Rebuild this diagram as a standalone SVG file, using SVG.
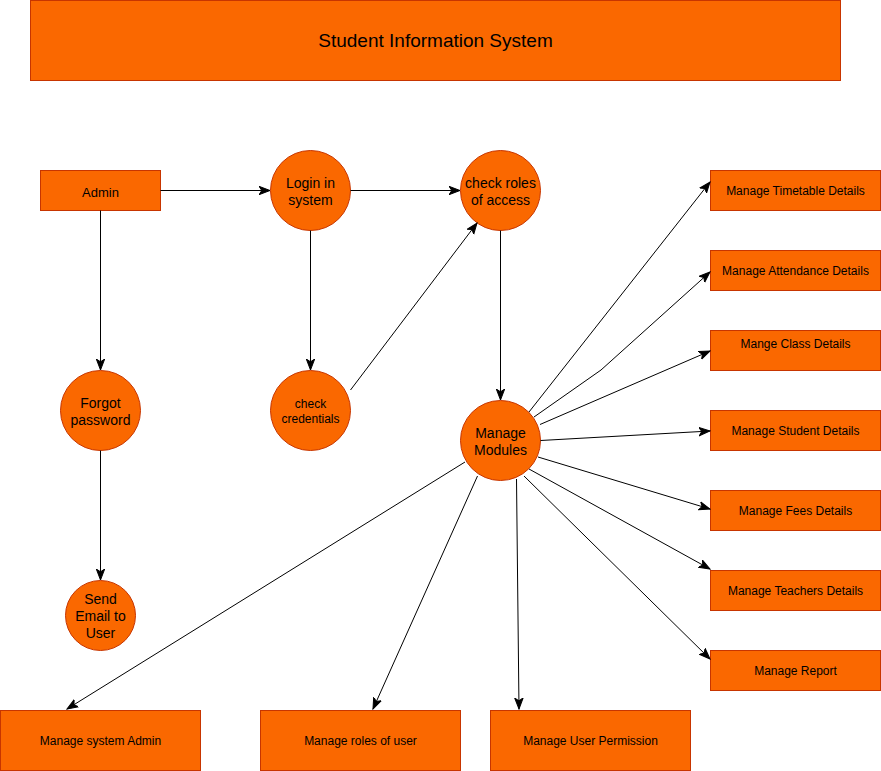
<svg xmlns="http://www.w3.org/2000/svg" width="881" height="771" viewBox="0 0 881 771">
<style>
.n{fill:#fa6800;stroke:#c73500;stroke-width:1}
.t{font-family:"Liberation Sans",Arial,sans-serif;fill:#000;text-anchor:middle}
.s12{font-size:12px}.s13{font-size:13px}.s14{font-size:14px}.s19{font-size:19px}
.c{fill:none;stroke:#000;stroke-width:1}
</style>
<defs>
<marker id="a" markerUnits="userSpaceOnUse" markerWidth="12" markerHeight="10" viewBox="0 0 12 10" refX="11" refY="5" orient="auto">
<path d="M0,0.8 L11,5 L0,9.2 L2.8,5 z" fill="#000" stroke="#000" stroke-width="1" stroke-linejoin="miter"/>
</marker>
</defs>
<rect width="881" height="771" fill="#fff"/>
<g id="title"><rect class="n" x="30.5" y="0.5" width="810" height="80"/><text class="t s19" x="435.5" y="47">Student Information System</text></g>
<g id="admin"><rect class="n" x="40.5" y="170.5" width="120" height="40"/><text class="t s13" x="100.5" y="197">Admin</text></g>
<g id="login"><circle class="n" cx="310.5" cy="190.5" r="40"/><text class="t s14" x="310.5" y="188">Login in</text><text class="t s14" x="310.5" y="205">system</text></g>
<g id="roles"><circle class="n" cx="500.5" cy="190.5" r="40"/><text class="t s14" x="500.5" y="188">check roles</text><text class="t s14" x="500.5" y="205">of access</text></g>
<g id="cred"><circle class="n" cx="310.5" cy="410.5" r="40"/><text class="t s12" x="310.5" y="408">check</text><text class="t s12" x="310.5" y="423">credentials</text></g>
<g id="forgot"><circle class="n" cx="100.5" cy="410.5" r="40"/><text class="t s14" x="100.5" y="408">Forgot</text><text class="t s14" x="100.5" y="425">password</text></g>
<g id="email"><circle class="n" cx="100.5" cy="615.5" r="35"/><text class="t s14" x="100.5" y="604">Send</text><text class="t s14" x="100.5" y="621">Email to</text><text class="t s14" x="100.5" y="638">User</text></g>
<g id="modules"><circle class="n" cx="500.5" cy="440.5" r="40"/><text class="t s14" x="500.5" y="438">Manage</text><text class="t s14" x="500.5" y="455">Modules</text></g>
<g id="timetable"><rect class="n" x="710.5" y="170.5" width="170" height="40"/><text class="t s12" x="795.5" y="195">Manage Timetable Details</text></g>
<g id="attendance"><rect class="n" x="710.5" y="250.5" width="170" height="40"/><text class="t s12" x="795.5" y="275">Manage Attendance Details</text></g>
<g id="class"><rect class="n" x="710.5" y="330.5" width="170" height="40"/><text class="t s12" x="795.5" y="348">Mange Class Details</text></g>
<g id="student"><rect class="n" x="710.5" y="410.5" width="170" height="40"/><text class="t s12" x="795.5" y="435">Manage Student Details</text></g>
<g id="fees"><rect class="n" x="710.5" y="490.5" width="170" height="40"/><text class="t s12" x="795.5" y="515">Manage Fees Details</text></g>
<g id="teachers"><rect class="n" x="710.5" y="570.5" width="170" height="40"/><text class="t s12" x="795.5" y="595">Manage Teachers Details</text></g>
<g id="report"><rect class="n" x="710.5" y="650.5" width="170" height="40"/><text class="t s12" x="795.5" y="675">Manage Report</text></g>
<g id="sysadmin"><rect class="n" x="0.5" y="710.5" width="200" height="60"/><text class="t s12" x="100.5" y="745">Manage system Admin</text></g>
<g id="userroles"><rect class="n" x="260.5" y="710.5" width="200" height="60"/><text class="t s12" x="360.5" y="745">Manage roles of user</text></g>
<g id="perm"><rect class="n" x="490.5" y="710.5" width="200" height="60"/><text class="t s12" x="590.5" y="745">Manage User Permission</text></g>
<g id="connectors">
<path class="c" marker-end="url(#a)" d="M160.5,190.5 L270,190.5"/>
<path class="c" marker-end="url(#a)" d="M100.5,210.5 L100.5,370"/>
<path class="c" marker-end="url(#a)" d="M100.5,450.5 L100.5,580"/>
<path class="c" marker-end="url(#a)" d="M350.5,190.5 L460,190.5"/>
<path class="c" marker-end="url(#a)" d="M310.5,230.5 L310.5,370"/>
<path class="c" marker-end="url(#a)" d="M350.5,390 L477,223"/>
<path class="c" marker-end="url(#a)" d="M500.5,230.5 L500.5,400"/>
<path class="c" marker-end="url(#a)" d="M529,412 L710,182"/>
<path class="c" marker-end="url(#a)" d="M534,417 L601,370 L710,272"/>
<path class="c" marker-end="url(#a)" d="M540,424.5 L710,351"/>
<path class="c" marker-end="url(#a)" d="M540.5,440.5 L710,431"/>
<path class="c" marker-end="url(#a)" d="M538,457 L710,509"/>
<path class="c" marker-end="url(#a)" d="M529,469 L710,569"/>
<path class="c" marker-end="url(#a)" d="M524,476 L710,659"/>
<path class="c" marker-end="url(#a)" d="M516.5,479 L519,709"/>
<path class="c" marker-end="url(#a)" d="M477.5,476 L373,709"/>
<path class="c" marker-end="url(#a)" d="M465,462 L67,709"/>
</g>
</svg>
